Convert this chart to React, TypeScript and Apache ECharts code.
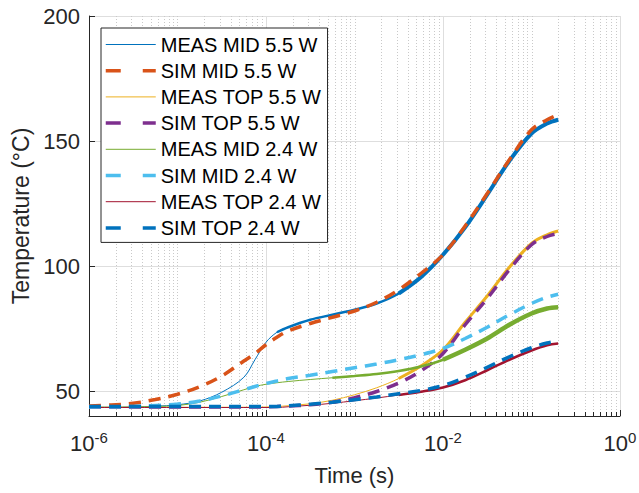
import React, { useEffect, useRef } from 'react';
import * as echarts from 'echarts';

// Time samples (s), quarter-decade spacing with a denser patch near 1e-4
const timeS = [
  1e-6, 1.78e-6, 3.16e-6, 5.62e-6, 1e-5, 1.78e-5, 3.16e-5, 5.62e-5, 7.5e-5, 1e-4, 1.33e-4,
  1.78e-4, 3.16e-4, 5.62e-4, 1e-3, 1.78e-3, 3.16e-3, 5.62e-3, 1e-2, 1.78e-2, 3.16e-2, 5.62e-2,
  0.1, 0.15, 0.2,
];

// Temperatures (°C) for each trace, aligned with timeS
const measMid55 = [
  43.5, 43.5, 43.6, 43.9, 44.5, 46, 49.5, 55.5, 62.5, 69.5, 73.5, 75.5, 78.5, 80.5, 82.5, 85,
  89, 95.5, 104.5, 115.5, 128.5, 142, 153, 157, 158.5,
];
const simMid55 = [
  44.0, 44.4, 45.1, 46.6, 48.7, 51.7, 56, 62, 65, 68.5, 71.5, 74, 77, 79.5, 82, 85.5, 90.5, 97,
  104.5, 116, 129, 142.5, 154.5, 158.5, 160.5,
];
const measTop55 = [
  43.5, 43.5, 43.5, 43.5, 43.5, 43.5, 43.5, 43.5, 43.5, 43.6, 43.8, 44.1, 44.9, 46.3, 48.5, 51.3,
  55, 60, 66.5, 77.5, 88, 99.5, 109, 112.5, 114,
];
const simTop55 = [
  43.6, 43.6, 43.6, 43.6, 43.6, 43.6, 43.6, 43.6, 43.6, 43.7, 43.8, 44, 44.5, 45.5, 47.3, 49.8,
  53.2, 58, 65, 76.5, 87, 98.5, 108.5, 111.8, 113,
];
const measMid24 = [
  43.5, 43.5, 43.6, 43.8, 44.2, 45.5, 47.8, 50.5, 51.8, 52.7, 53.3, 53.8, 54.6, 55.3, 56, 56.8,
  58, 59.8, 62.5, 66.5, 71, 76.5, 81, 83, 83.5,
];
const simMid24 = [
  43.6, 43.7, 43.8, 44.2, 44.8, 46, 48, 50.5, 51.8, 53, 54, 55, 56.3, 57.8, 59.3, 60.8, 62.5,
  64.5, 67, 71, 75.5, 80.5, 85, 87.5, 88.7,
];
const measTop24 = [
  43.4, 43.4, 43.4, 43.4, 43.4, 43.4, 43.4, 43.4, 43.4, 43.4, 43.4, 43.7, 44.3, 45.1, 46.1, 47.2,
  48.4, 49.7, 51.4, 54.3, 58.3, 62.5, 66.2, 68.3, 69,
];
const simTop24 = [
  43.8, 43.8, 43.8, 43.8, 43.8, 43.8, 43.8, 43.8, 43.8, 43.8, 43.8, 44.1, 44.7, 45.5, 46.5, 47.6,
  48.9, 50.2, 52.2, 55.5, 59.5, 63.7, 67.3, 69.2, 70,
];

const seriesNames = [
  'MEAS MID 5.5 W',
  'SIM MID 5.5 W',
  'MEAS TOP 5.5 W',
  'SIM TOP 5.5 W',
  'MEAS MID 2.4 W',
  'SIM MID 2.4 W',
  'MEAS TOP 2.4 W',
  'SIM TOP 2.4 W',
];
const seriesValues = [measMid55, simMid55, measTop55, simTop55, measMid24, simMid24, measTop24, simTop24];
const seriesColors = ['#0072BD', '#D95319', '#EDB120', '#7E2F8E', '#77AC30', '#4DBEEE', '#A2142F', '#0072BD'];
const seriesDashed = [false, true, false, true, false, true, false, true];
// Measured traces look thicker where the sampled signal is dense and noisy:
// [start index into timeS, stroke width] pairs per trace
const noisyBands: number[][][] = [
  [[10, 2.5], [16, 4]],
  [],
  [[16, 3]],
  [],
  [[13, 2.5], [18, 4.5]],
  [],
  [[16, 2.5]],
  [],
];

const Y_MIN = 40;
const Y_MAX = 200;
const T_MIN = 1e-6;
const T_MAX = 1;

const FONT = "'Liberation Sans', Arial, Helvetica, sans-serif";
const AXIS_COLOR = '#262626';

// Log-axis grid/tick positions: decade multiples, majors on even decades
const gridTicks: number[][] = [];
for (let k = -6; k <= -1; k++) {
  for (let m = 1; m <= 9; m++) {
    if (k === -6 && m === 1) continue;
    const t = m * Math.pow(10, k);
    const major = m === 1 && k % 2 === 0 ? 1 : 0;
    gridTicks.push([t, Y_MIN, major]);
  }
}
gridTicks.push([T_MAX, Y_MIN, 1]);

function pairs(vals: number[], from = 0) {
  const out: number[][] = [];
  for (let i = from; i < vals.length; i++) out.push([timeS[i], vals[i]]);
  return out;
}

export default function App() {
  const ref = useRef<HTMLDivElement>(null);

  useEffect(() => {
    if (!ref.current) return;
    const chart = echarts.init(ref.current, null, { renderer: 'svg' });

    const lineSeries: any[] = [];
    seriesNames.forEach((name, i) => {
      lineSeries.push({
        type: 'line',
        name,
        data: pairs(seriesValues[i]),
        symbol: 'none',
        showSymbol: false,
        smooth: 0.35,
        lineStyle: {
          color: seriesColors[i],
          width: seriesDashed[i] ? 3.5 : 1,
          type: seriesDashed[i] ? [12, 8] : 'solid',
          cap: 'butt',
        },
        itemStyle: { color: seriesColors[i] },
        emphasis: { disabled: true },
        silent: true,
      });
      noisyBands[i].forEach(([from, width]) => {
        lineSeries.push({
          type: 'line',
          name,
          data: pairs(seriesValues[i], from),
          symbol: 'none',
          showSymbol: false,
          smooth: 0.35,
          lineStyle: { color: seriesColors[i], width, type: 'solid' },
          itemStyle: { color: seriesColors[i] },
          emphasis: { disabled: true },
          silent: true,
        });
      });
    });

    const option: any = {
      animation: false,
      backgroundColor: '#ffffff',
      textStyle: { fontFamily: FONT },
      grid: { left: 89, right: 19, top: 16, bottom: 77, containLabel: false, outerBoundsMode: 'none' },
      xAxis: {
        type: 'log',
        logBase: 10,
        min: T_MIN,
        max: T_MAX,
        name: 'Time (s)',
        nameLocation: 'middle',
        nameGap: 48,
        nameTextStyle: { fontSize: 22, color: AXIS_COLOR, fontFamily: FONT },
        axisLine: { show: true, lineStyle: { color: AXIS_COLOR, width: 1 } },
        axisTick: { show: false },
        splitLine: { show: false },
        minorTick: { show: false },
        axisLabel: {
          margin: 14,
          color: AXIS_COLOR,
          fontFamily: FONT,
          formatter: (v: number) => {
            const e = Math.round(Math.log10(v));
            return e % 2 === 0 ? `{b|10}{e|${e}}` : '';
          },
          rich: {
            b: { fontSize: 22, color: AXIS_COLOR, fontFamily: FONT },
            e: { fontSize: 15, color: AXIS_COLOR, fontFamily: FONT, padding: [0, 0, 11, 0] },
          },
        },
      },
      yAxis: {
        type: 'value',
        min: Y_MIN,
        max: Y_MAX,
        splitNumber: 3,
        minInterval: 50,
        maxInterval: 50,
        name: 'Temperature (°C)',
        nameLocation: 'middle',
        nameGap: 56,
        nameTextStyle: { fontSize: 23, color: AXIS_COLOR, fontFamily: FONT },
        axisLine: { show: true, lineStyle: { color: AXIS_COLOR, width: 1 } },
        axisTick: { show: true, inside: true, length: 6, lineStyle: { color: AXIS_COLOR } },
        splitLine: { show: true, lineStyle: { color: '#dedede', width: 1 } },
        axisLabel: {
          margin: 9,
          fontSize: 22,
          color: AXIS_COLOR,
          fontFamily: FONT,
          formatter: (v: number) => (v % 50 === 0 ? String(v) : ''),
        },
      },
      legend: {
        orient: 'vertical',
        left: 101,
        top: 28,
        padding: [6, 6, 4, 3],
        itemWidth: 50,
        itemHeight: 14,
        itemGap: 5.2,
        backgroundColor: '#ffffff',
        borderColor: AXIS_COLOR,
        borderWidth: 1,
        borderRadius: 0,
        selectedMode: false,
        textStyle: { fontSize: 20, lineHeight: 21, color: '#000000', fontFamily: FONT },
        data: seriesNames.map((name, i) => ({
          name,
          itemStyle: { opacity: 0 },
          lineStyle: seriesDashed[i]
            ? { color: seriesColors[i], width: 3.5, type: [15, 22], cap: 'butt' }
            : { color: seriesColors[i], width: 1, type: 'solid' },
        })),
      },
      series: [
        {
          type: 'custom',
          name: 'grid-ticks',
          silent: true,
          clip: false,
          z: 1,
          data: gridTicks,
          encode: { x: 0, y: 1 },
          renderItem: (_params: any, api: any) => {
            const t = api.value(0) as number;
            const major = api.value(2) === 1;
            const top = api.coord([t, Y_MAX]);
            const bot = api.coord([t, Y_MIN]);
            const x = Math.round(top[0]) + 0.5;
            return {
              type: 'group',
              children: [
                {
                  type: 'line',
                  shape: { x1: x, y1: top[1], x2: x, y2: bot[1] },
                  style: major
                    ? { stroke: '#dedede', lineWidth: 1 }
                    : { stroke: '#c9c9c9', lineWidth: 1, lineDash: [1, 2] },
                },
                {
                  type: 'line',
                  shape: { x1: x, y1: bot[1], x2: x, y2: bot[1] - (major ? 6 : 4) },
                  style: { stroke: AXIS_COLOR, lineWidth: 1 },
                },
              ],
            };
          },
        },
        ...lineSeries,
      ],
    };

    chart.setOption(option);
    return () => chart.dispose();
  }, []);

  return (
    <div
      ref={ref}
      style={{ position: 'fixed', left: 0, top: 0, width: 639, height: 493, background: '#fff' }}
    />
  );
}
